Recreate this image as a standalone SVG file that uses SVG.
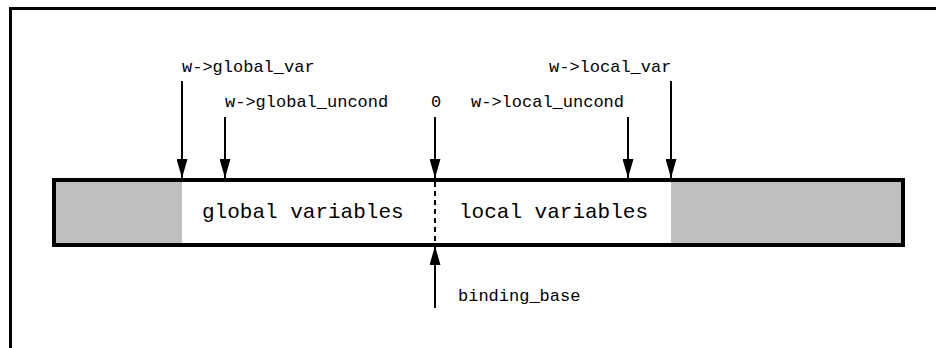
<svg xmlns="http://www.w3.org/2000/svg" width="936" height="348" viewBox="0 0 936 348">
<defs>
<style>
.lbl{font-family:"Liberation Mono","Courier New",monospace;font-size:17px;fill:#000}
.big{font-family:"Liberation Mono","Courier New",monospace;font-size:21px;fill:#000}
.ln{stroke:#000;stroke-width:2;fill:none}
</style>
<marker id="ah" viewBox="0 0 19 11" refX="19" refY="5.5" markerWidth="19" markerHeight="11" markerUnits="userSpaceOnUse" orient="auto">
<path d="M0,0 L19,5.5 L0,11 Z" fill="#000"/>
</marker>
</defs>
<rect width="936" height="348" fill="#fff"/>
<path d="M10.5,348 V8.5 H936" stroke="#000" stroke-width="3" fill="none"/>
<g id="bar">
<rect x="54" y="180" width="849" height="65" fill="#fff"/>
<rect x="54" y="180" width="128" height="65" fill="#bfbfbf"/>
<rect x="671" y="180" width="232" height="65" fill="#bfbfbf"/>
<line x1="435" y1="182" x2="435" y2="244" stroke="#000" stroke-width="2" stroke-dasharray="5,4"/>
<rect x="54" y="180" width="849" height="65" fill="none" stroke="#000" stroke-width="4"/>
<text class="big" x="202" y="218">global variables</text>
<text class="big" x="459" y="218">local variables</text>
</g>
<g id="connectors">
<line class="ln" x1="182" y1="81" x2="182" y2="178" marker-end="url(#ah)"/>
<line class="ln" x1="225" y1="117" x2="225" y2="178" marker-end="url(#ah)"/>
<line class="ln" x1="435" y1="117" x2="435" y2="178" marker-end="url(#ah)"/>
<line class="ln" x1="628" y1="117" x2="628" y2="178" marker-end="url(#ah)"/>
<line class="ln" x1="671" y1="81" x2="671" y2="178" marker-end="url(#ah)"/>
<line class="ln" x1="435" y1="308" x2="435" y2="246" marker-end="url(#ah)"/>
</g>
<g id="label-global-var"><text class="lbl" x="182" y="72">w-&gt;global_var</text></g>
<g id="label-global-uncond"><text class="lbl" x="225" y="107">w-&gt;global_uncond</text></g>
<g id="label-zero"><text class="lbl" x="431" y="107">0</text></g>
<g id="label-local-uncond"><text class="lbl" x="471" y="107">w-&gt;local_uncond</text></g>
<g id="label-local-var"><text class="lbl" x="549" y="72">w-&gt;local_var</text></g>
<g id="label-binding-base"><text class="lbl" x="458" y="301">binding_base</text></g>
</svg>
